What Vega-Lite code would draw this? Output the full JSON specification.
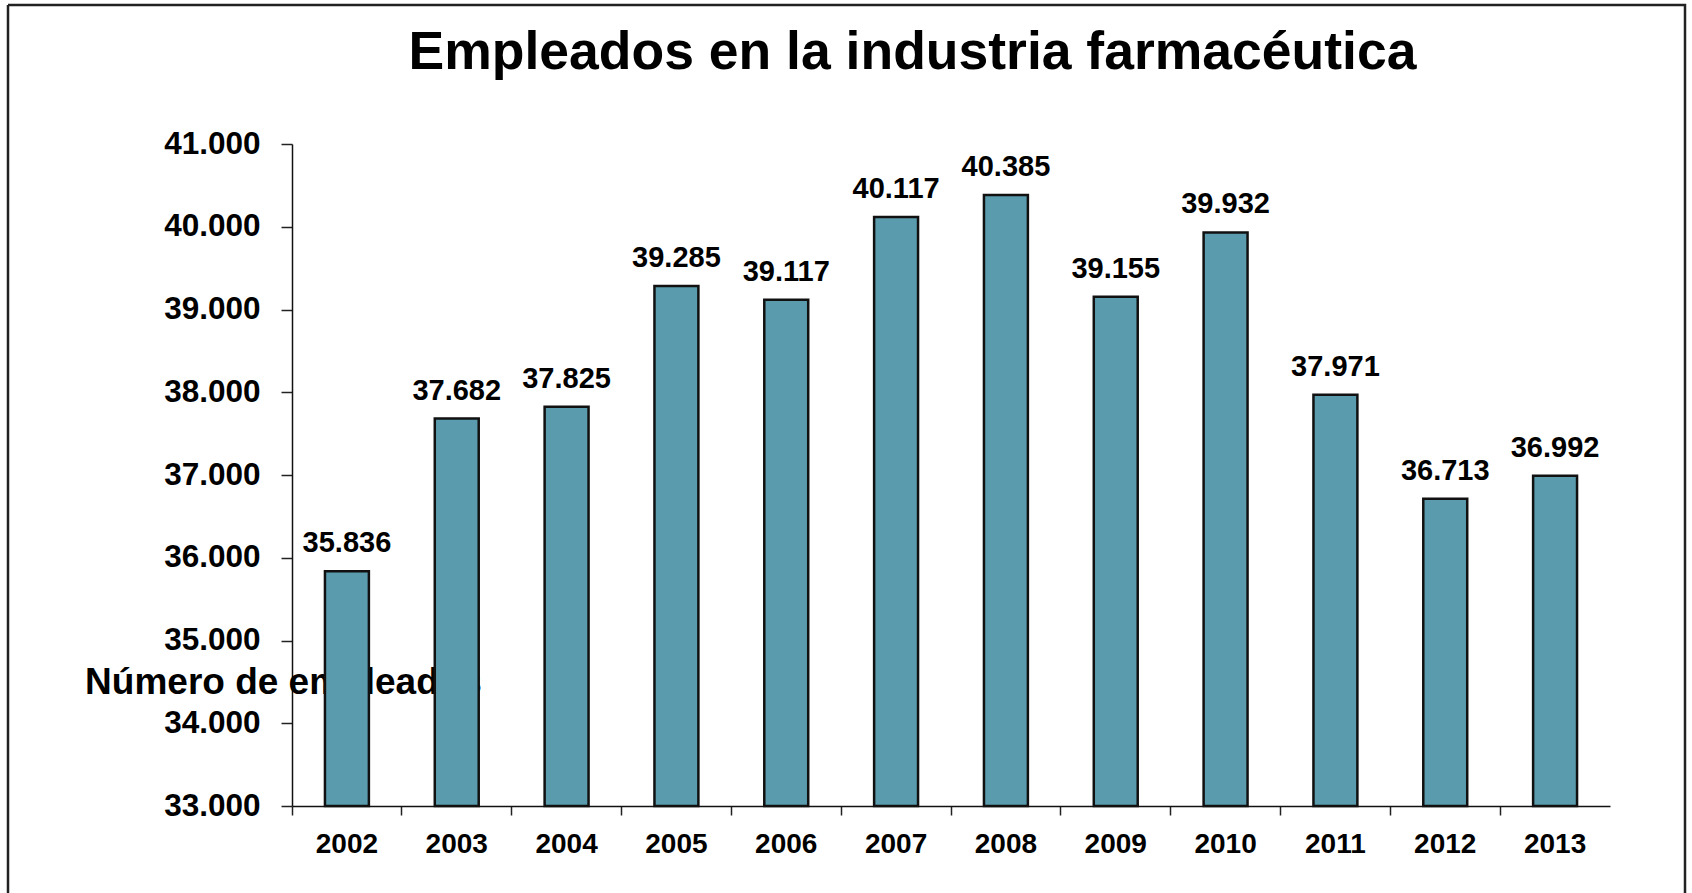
{
  "$schema": "https://vega.github.io/schema/vega-lite/v6.json",
  "width": 1677,
  "height": 888,
  "autosize": {"type": "none"},
  "padding": {"left": 8, "top": 5, "right": 7, "bottom": 0},
  "background": "white",
  "config": {
    "view": {"stroke": "#222", "strokeWidth": 2.5, "strokeDash": [2565, 1677, 888, 0]},
    "font": "Liberation Sans",
    "locale": {"number": {"decimal": ",", "thousands": ".", "grouping": [3], "currency": ["", " €"]}}
  },
  "title": {
    "text": "Empleados en la industria farmacéutica",
    "frame": "group",
    "anchor": "middle",
    "dx": 66,
    "offset": 0,
    "dy": 117,
    "baseline": "alphabetic",
    "fontSize": 53.5,
    "fontWeight": "bold",
    "font": "Liberation Sans",
    "color": "black"
  },
  "data": {
    "values": [
      {"year": "2002", "empleados": 35836},
      {"year": "2003", "empleados": 37682},
      {"year": "2004", "empleados": 37825},
      {"year": "2005", "empleados": 39285},
      {"year": "2006", "empleados": 39117},
      {"year": "2007", "empleados": 40117},
      {"year": "2008", "empleados": 40385},
      {"year": "2009", "empleados": 39155},
      {"year": "2010", "empleados": 39932},
      {"year": "2011", "empleados": 37971},
      {"year": "2012", "empleados": 36713},
      {"year": "2013", "empleados": 36992}
    ]
  },
  "encoding": {
    "x": {
      "field": "year",
      "type": "nominal",
      "sort": null,
      "scale": {"paddingInner": 0.6, "paddingOuter": 0.3, "range": [284, 1602]},
      "axis": {
        "title": null,
        "offset": -87,
        "labelAngle": 0,
        "labelFontSize": 28,
        "labelFontWeight": "bold",
        "labelColor": "black",
        "labelBaseline": "alphabetic",
        "labelPadding": 37,
        "tickSize": 9,
        "tickColor": "#222",
        "tickWidth": 1.5,
        "domainColor": "#111",
        "domainWidth": 1.5,
        "bandPosition": -0.75
      }
    },
    "y": {
      "field": "empleados",
      "type": "quantitative",
      "scale": {"domain": [33000, 41000], "zero": false, "nice": false, "range": [801, 139]},
      "axis": {
        "values": [33000, 34000, 35000, 36000, 37000, 38000, 39000, 40000, 41000],
        "format": ",d",
        "offset": -284,
        "grid": false,
        "labelFontSize": 31.5,
        "labelFontWeight": "bold",
        "labelColor": "black",
        "labelPadding": 21,
        "tickSize": 11,
        "tickColor": "#222",
        "tickWidth": 1.5,
        "domainColor": "#111",
        "domainWidth": 1.5,
        "title": "Número de empleados",
        "titleAngle": 0,
        "titleX": -9,
        "titleY": 688,
        "titleAlign": "center",
        "titleBaseline": "alphabetic",
        "titleFontSize": 37,
        "titleFontWeight": "bold",
        "titleColor": "black",
        "zindex": 0
      }
    }
  },
  "layer": [
    {
      "mark": {"type": "bar", "fill": "#5A9CAD", "stroke": "#111", "strokeWidth": 2.5},
      "encoding": {"y2": {"datum": 33000}}
    },
    {
      "mark": {"type": "text", "baseline": "alphabetic", "dy": -19, "fontSize": 29, "fontWeight": "bold", "color": "black"},
      "encoding": {"text": {"field": "empleados", "type": "quantitative", "format": ",d"}}
    }
  ]
}
